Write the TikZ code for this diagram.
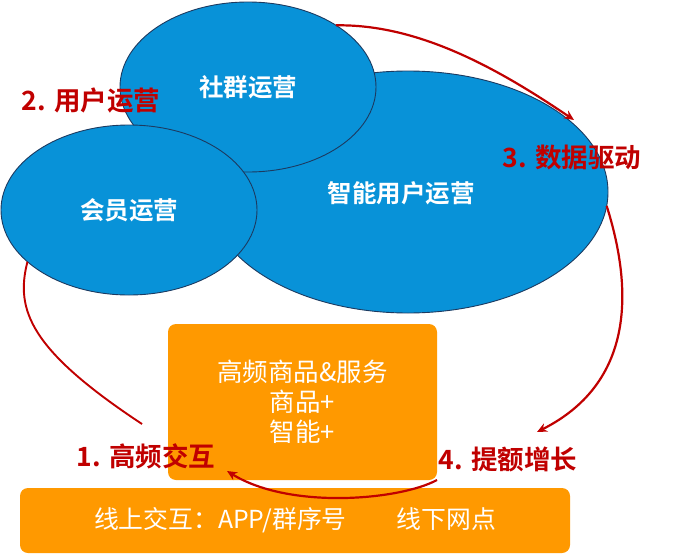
\documentclass[tikz,border=0pt]{standalone}
\usepackage{fontspec}
\setmainfont{Noto Sans CJK SC}[BoldFont={Noto Sans CJK SC Bold}]
\usetikzlibrary{shapes.geometric,arrows.meta}
\definecolor{ellblue}{RGB}{8,146,216}
\definecolor{ellline}{RGB}{28,58,96}
\definecolor{boxorange}{RGB}{255,153,0}
\definecolor{labred}{RGB}{192,0,0}
\begin{document}
\begin{tikzpicture}[x=1pt,y=-1pt,
  bubble/.style={ellipse, draw=ellline, line width=0.9pt, fill=ellblue, inner sep=0pt, outer sep=0pt, text=white, font=\fontsize{24.5}{28}\selectfont\bfseries},
  bubbletext/.style={text=white, inner sep=0pt, font=\fontsize{24.5}{28}\selectfont\bfseries},
  panel/.style={rounded corners=8pt, fill=boxorange, text=white, inner sep=0pt, outer sep=0pt, align=center},
  steplabel/.style={text=labred, font=\fontsize{26.5}{30}\selectfont\bfseries, inner sep=0pt},
  flow/.style={draw=labred, line width=2.2pt, -{Stealth[length=10pt,width=9pt]}},
  flowplain/.style={draw=labred, line width=1.9pt}]
\useasboundingbox (0,0) rectangle (675,554);
% ellipses
\node[bubble, minimum width=400pt, minimum height=242pt] (zhineng) at (408,192) {};
\node[bubbletext] (zhinengtext) at (401,193) {智能用户运营};
\node[bubble, minimum width=256pt, minimum height=170pt] (shequn) at (248,87) {社群运营};
\node[bubble, minimum width=256pt, minimum height=170pt] (huiyuan) at (129,210) {会员运营};
% boxes
\node[panel, minimum width=269pt, minimum height=156pt, font=\fontsize{25.5}{30}\selectfont] (upbox) at (302.5,402) {高频商品\&服务\\商品+\\智能+};
\node[panel, minimum width=550pt, minimum height=65pt, font=\fontsize{24.8}{28}\selectfont] (lowbox) at (295,520.5) {\raisebox{-3pt}{线上交互：APP/群序号\hspace{50pt}线下网点}};
% labels
\node[steplabel] (l2) at (91,101) {2. 用户运营};
\node[steplabel] (l3) at (572,157) {3. 数据驱动};
\node[steplabel] (l1) at (146,456) {1. 高频交互};
\node[steplabel] (l4) at (508,459) {4. 提额增长};
% connector ends
\coordinate (a1end) at (574,120);
\coordinate (a2end) at (537,432);
\coordinate (a3end) at (227,471);
\coordinate (a4start) at (142,424);
% connectors
\draw[flow] (shequn.35) .. controls (420,24) and (500,70) .. (a1end);
\draw[flow] (zhineng.-4) .. controls (630,280) and (640,380) .. (a2end);
\draw[flow] (upbox.south east) .. controls (400,500) and (290,510) .. (a3end);
\draw[flowplain] (a4start) .. controls (30,350) and (15,310) .. (huiyuan.207);
\end{tikzpicture}
\end{document}
